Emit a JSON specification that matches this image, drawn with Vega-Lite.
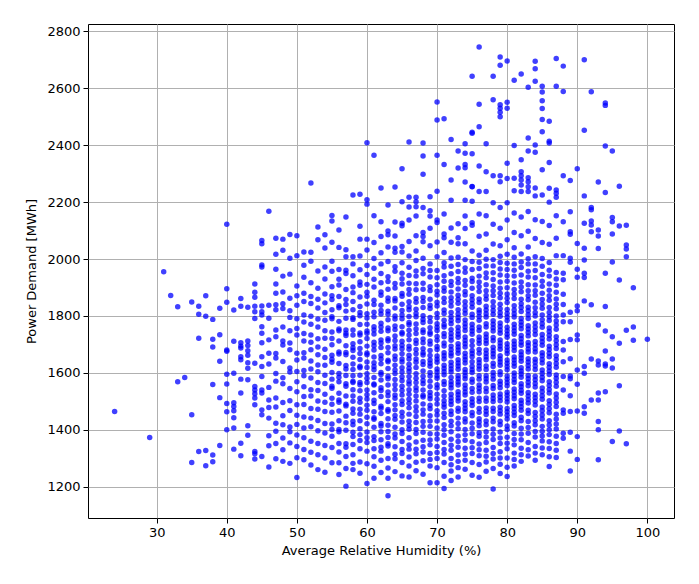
{
  "$schema": "https://vega.github.io/schema/vega-lite/v6.json",
  "width": 586,
  "height": 494,
  "autosize": {"type": "none"},
  "padding": {"left": 88, "top": 24, "right": 25, "bottom": 66},
  "background": "white",
  "config": {
    "view": {"stroke": "black", "strokeWidth": 1},
    "axis": {
      "labelFont": "DejaVu Sans",
      "titleFont": "DejaVu Sans",
      "labelFontSize": 13,
      "titleFontSize": 13,
      "titleFontWeight": "normal",
      "labelColor": "black",
      "titleColor": "black",
      "tickColor": "black",
      "tickSize": 5,
      "domain": false,
      "gridColor": "#b0b0b0",
      "gridWidth": 1,
      "labelPadding": 3
    }
  },
  "data": {
    "values": [
      {"rh":24,"mwh":1464},{"rh":29,"mwh":1373},{"rh":31,"mwh":1955},{"rh":32,"mwh":1872},
      {"rh":33,"mwh":1832},{"rh":33,"mwh":1569},{"rh":34,"mwh":1584},
      {"rh":35,"mwh":1849},{"rh":35,"mwh":1453},{"rh":35,"mwh":1285},
      {"rh":36,"mwh":1834},{"rh":36,"mwh":1806},{"rh":36,"mwh":1722},{"rh":36,"mwh":1324},
      {"rh":37,"mwh":1871},{"rh":37,"mwh":1799},{"rh":37,"mwh":1327},{"rh":37,"mwh":1274},
      {"rh":38,"mwh":1788},{"rh":38,"mwh":1718},{"rh":38,"mwh":1691},{"rh":38,"mwh":1559},{"rh":38,"mwh":1311},{"rh":38,"mwh":1288},
      {"rh":39,"mwh":1827},{"rh":39,"mwh":1734},{"rh":39,"mwh":1641},{"rh":39,"mwh":1513},{"rh":39,"mwh":1345},
      {"rh":40,"mwh":2122},{"rh":40,"mwh":1896},{"rh":40,"mwh":1848},{"rh":40,"mwh":1680},{"rh":40,"mwh":1676},{"rh":40,"mwh":1595},{"rh":40,"mwh":1561},{"rh":40,"mwh":1492},{"rh":40,"mwh":1463},{"rh":40,"mwh":1400},
      {"rh":41,"mwh":1821},{"rh":41,"mwh":1711},{"rh":41,"mwh":1599},{"rh":41,"mwh":1495},{"rh":41,"mwh":1482},{"rh":41,"mwh":1467},{"rh":41,"mwh":1442},{"rh":41,"mwh":1406},{"rh":41,"mwh":1332},
      {"rh":42,"mwh":1861},{"rh":42,"mwh":1834},{"rh":42,"mwh":1706},{"rh":42,"mwh":1694},{"rh":42,"mwh":1687},{"rh":42,"mwh":1657},{"rh":42,"mwh":1646},{"rh":42,"mwh":1578},{"rh":42,"mwh":1529},{"rh":42,"mwh":1353},{"rh":42,"mwh":1309},
      {"rh":43,"mwh":1831},{"rh":43,"mwh":1712},{"rh":43,"mwh":1696},{"rh":43,"mwh":1678},{"rh":43,"mwh":1662},{"rh":43,"mwh":1636},{"rh":43,"mwh":1616},{"rh":43,"mwh":1576},{"rh":43,"mwh":1414},{"rh":43,"mwh":1381},
      {"rh":44,"mwh":1912},{"rh":44,"mwh":1883},{"rh":44,"mwh":1866},{"rh":44,"mwh":1834},{"rh":44,"mwh":1815},{"rh":44,"mwh":1791},{"rh":44,"mwh":1634},{"rh":44,"mwh":1552},{"rh":44,"mwh":1540},{"rh":44,"mwh":1527},{"rh":44,"mwh":1512},{"rh":44,"mwh":1488},{"rh":44,"mwh":1324},{"rh":44,"mwh":1316},{"rh":44,"mwh":1297},
      {"rh":45,"mwh":2065},{"rh":45,"mwh":2054},{"rh":45,"mwh":1979},{"rh":45,"mwh":1972},{"rh":45,"mwh":1835},{"rh":45,"mwh":1815},{"rh":45,"mwh":1803},{"rh":45,"mwh":1762},{"rh":45,"mwh":1739},{"rh":45,"mwh":1706},{"rh":45,"mwh":1657},{"rh":45,"mwh":1622},{"rh":45,"mwh":1587},{"rh":45,"mwh":1540},{"rh":45,"mwh":1529},{"rh":45,"mwh":1470},{"rh":45,"mwh":1453},{"rh":45,"mwh":1306},
      {"rh":46,"mwh":2168},{"rh":46,"mwh":1838},{"rh":46,"mwh":1792},{"rh":46,"mwh":1716},{"rh":46,"mwh":1669},{"rh":46,"mwh":1631},{"rh":46,"mwh":1549},{"rh":46,"mwh":1505},{"rh":46,"mwh":1478},{"rh":46,"mwh":1441},{"rh":46,"mwh":1379},{"rh":46,"mwh":1344},{"rh":46,"mwh":1269},
      {"rh":47,"mwh":2073},{"rh":47,"mwh":2017},{"rh":47,"mwh":1964},{"rh":47,"mwh":1912},{"rh":47,"mwh":1880},{"rh":47,"mwh":1839},{"rh":47,"mwh":1822},{"rh":47,"mwh":1751},{"rh":47,"mwh":1727},{"rh":47,"mwh":1668},{"rh":47,"mwh":1652},{"rh":47,"mwh":1598},{"rh":47,"mwh":1571},{"rh":47,"mwh":1512},{"rh":47,"mwh":1480},{"rh":47,"mwh":1423},{"rh":47,"mwh":1395},{"rh":47,"mwh":1352},{"rh":47,"mwh":1298},
      {"rh":48,"mwh":2070},{"rh":48,"mwh":2031},{"rh":48,"mwh":1940},{"rh":48,"mwh":1884},{"rh":48,"mwh":1843},{"rh":48,"mwh":1826},{"rh":48,"mwh":1761},{"rh":48,"mwh":1712},{"rh":48,"mwh":1698},{"rh":48,"mwh":1640},{"rh":48,"mwh":1583},{"rh":48,"mwh":1562},{"rh":48,"mwh":1496},{"rh":48,"mwh":1449},{"rh":48,"mwh":1418},{"rh":48,"mwh":1371},{"rh":48,"mwh":1330},{"rh":48,"mwh":1289},
      {"rh":49,"mwh":2086},{"rh":49,"mwh":2003},{"rh":49,"mwh":1947},{"rh":49,"mwh":1862},{"rh":49,"mwh":1818},{"rh":49,"mwh":1795},{"rh":49,"mwh":1748},{"rh":49,"mwh":1705},{"rh":49,"mwh":1681},{"rh":49,"mwh":1617},{"rh":49,"mwh":1603},{"rh":49,"mwh":1545},{"rh":49,"mwh":1502},{"rh":49,"mwh":1468},{"rh":49,"mwh":1410},{"rh":49,"mwh":1393},{"rh":49,"mwh":1354},{"rh":49,"mwh":1282},
      {"rh":50,"mwh":2082},{"rh":50,"mwh":2012},{"rh":50,"mwh":1905},{"rh":50,"mwh":1871},{"rh":50,"mwh":1838},{"rh":50,"mwh":1790},{"rh":50,"mwh":1756},{"rh":50,"mwh":1733},{"rh":50,"mwh":1669},{"rh":50,"mwh":1645},{"rh":50,"mwh":1605},{"rh":50,"mwh":1569},{"rh":50,"mwh":1534},{"rh":50,"mwh":1488},{"rh":50,"mwh":1451},{"rh":50,"mwh":1419},{"rh":50,"mwh":1382},{"rh":50,"mwh":1341},{"rh":50,"mwh":1302},{"rh":50,"mwh":1232},
      {"rh":51,"mwh":2025},{"rh":51,"mwh":1978},{"rh":51,"mwh":1936},{"rh":51,"mwh":1880},{"rh":51,"mwh":1851},{"rh":51,"mwh":1803},{"rh":51,"mwh":1779},{"rh":51,"mwh":1738},{"rh":51,"mwh":1712},{"rh":51,"mwh":1671},{"rh":51,"mwh":1652},{"rh":51,"mwh":1608},{"rh":51,"mwh":1590},{"rh":51,"mwh":1551},{"rh":51,"mwh":1517},{"rh":51,"mwh":1489},{"rh":51,"mwh":1445},{"rh":51,"mwh":1406},{"rh":51,"mwh":1372},{"rh":51,"mwh":1331},{"rh":51,"mwh":1295},
      {"rh":52,"mwh":2267},{"rh":52,"mwh":2024},{"rh":52,"mwh":1992},{"rh":52,"mwh":1917},{"rh":52,"mwh":1868},{"rh":52,"mwh":1844},{"rh":52,"mwh":1799},{"rh":52,"mwh":1771},{"rh":52,"mwh":1733},{"rh":52,"mwh":1708},{"rh":52,"mwh":1681},{"rh":52,"mwh":1642},{"rh":52,"mwh":1614},{"rh":52,"mwh":1582},{"rh":52,"mwh":1541},{"rh":52,"mwh":1519},{"rh":52,"mwh":1475},{"rh":52,"mwh":1441},{"rh":52,"mwh":1411},{"rh":52,"mwh":1360},{"rh":52,"mwh":1321},{"rh":52,"mwh":1276},
      {"rh":53,"mwh":2113},{"rh":53,"mwh":2068},{"rh":53,"mwh":1958},{"rh":53,"mwh":1897},{"rh":53,"mwh":1859},{"rh":53,"mwh":1828},{"rh":53,"mwh":1789},{"rh":53,"mwh":1761},{"rh":53,"mwh":1720},{"rh":53,"mwh":1691},{"rh":53,"mwh":1664},{"rh":53,"mwh":1628},{"rh":53,"mwh":1604},{"rh":53,"mwh":1566},{"rh":53,"mwh":1538},{"rh":53,"mwh":1501},{"rh":53,"mwh":1472},{"rh":53,"mwh":1433},{"rh":53,"mwh":1397},{"rh":53,"mwh":1352},{"rh":53,"mwh":1312},{"rh":53,"mwh":1260},
      {"rh":54,"mwh":2085},{"rh":54,"mwh":2039},{"rh":54,"mwh":1972},{"rh":54,"mwh":1930},{"rh":54,"mwh":1877},{"rh":54,"mwh":1846},{"rh":54,"mwh":1812},{"rh":54,"mwh":1785},{"rh":54,"mwh":1748},{"rh":54,"mwh":1722},{"rh":54,"mwh":1683},{"rh":54,"mwh":1654},{"rh":54,"mwh":1627},{"rh":54,"mwh":1592},{"rh":54,"mwh":1563},{"rh":54,"mwh":1525},{"rh":54,"mwh":1497},{"rh":54,"mwh":1464},{"rh":54,"mwh":1422},{"rh":54,"mwh":1389},{"rh":54,"mwh":1345},{"rh":54,"mwh":1301},{"rh":54,"mwh":1251},
      {"rh":55,"mwh":2153},{"rh":55,"mwh":2134},{"rh":55,"mwh":2059},{"rh":55,"mwh":1992},{"rh":55,"mwh":1957},{"rh":55,"mwh":1903},{"rh":55,"mwh":1871},{"rh":55,"mwh":1858},{"rh":55,"mwh":1822},{"rh":55,"mwh":1797},{"rh":55,"mwh":1790},{"rh":55,"mwh":1744},{"rh":55,"mwh":1721},{"rh":55,"mwh":1699},{"rh":55,"mwh":1662},{"rh":55,"mwh":1648},{"rh":55,"mwh":1637},{"rh":55,"mwh":1601},{"rh":55,"mwh":1578},{"rh":55,"mwh":1553},{"rh":55,"mwh":1546},{"rh":55,"mwh":1511},{"rh":55,"mwh":1490},{"rh":55,"mwh":1462},{"rh":55,"mwh":1420},{"rh":55,"mwh":1401},{"rh":55,"mwh":1377},{"rh":55,"mwh":1338},{"rh":55,"mwh":1284},
      {"rh":56,"mwh":2102},{"rh":56,"mwh":2041},{"rh":56,"mwh":1963},{"rh":56,"mwh":1929},{"rh":56,"mwh":1909},{"rh":56,"mwh":1868},{"rh":56,"mwh":1836},{"rh":56,"mwh":1829},{"rh":56,"mwh":1781},{"rh":56,"mwh":1754},{"rh":56,"mwh":1748},{"rh":56,"mwh":1712},{"rh":56,"mwh":1673},{"rh":56,"mwh":1666},{"rh":56,"mwh":1633},{"rh":56,"mwh":1598},{"rh":56,"mwh":1585},{"rh":56,"mwh":1569},{"rh":56,"mwh":1528},{"rh":56,"mwh":1505},{"rh":56,"mwh":1497},{"rh":56,"mwh":1466},{"rh":56,"mwh":1432},{"rh":56,"mwh":1401},{"rh":56,"mwh":1393},{"rh":56,"mwh":1352},{"rh":56,"mwh":1322},{"rh":56,"mwh":1284},{"rh":56,"mwh":1243},
      {"rh":57,"mwh":2148},{"rh":57,"mwh":2033},{"rh":57,"mwh":2008},{"rh":57,"mwh":1961},{"rh":57,"mwh":1949},{"rh":57,"mwh":1893},{"rh":57,"mwh":1858},{"rh":57,"mwh":1840},{"rh":57,"mwh":1817},{"rh":57,"mwh":1792},{"rh":57,"mwh":1751},{"rh":57,"mwh":1739},{"rh":57,"mwh":1731},{"rh":57,"mwh":1695},{"rh":57,"mwh":1672},{"rh":57,"mwh":1664},{"rh":57,"mwh":1626},{"rh":57,"mwh":1614},{"rh":57,"mwh":1591},{"rh":57,"mwh":1562},{"rh":57,"mwh":1553},{"rh":57,"mwh":1519},{"rh":57,"mwh":1490},{"rh":57,"mwh":1484},{"rh":57,"mwh":1448},{"rh":57,"mwh":1425},{"rh":57,"mwh":1398},{"rh":57,"mwh":1351},{"rh":57,"mwh":1339},{"rh":57,"mwh":1306},{"rh":57,"mwh":1264},{"rh":57,"mwh":1202},
      {"rh":58,"mwh":2225},{"rh":58,"mwh":2008},{"rh":58,"mwh":1983},{"rh":58,"mwh":1941},{"rh":58,"mwh":1902},{"rh":58,"mwh":1882},{"rh":58,"mwh":1851},{"rh":58,"mwh":1822},{"rh":58,"mwh":1794},{"rh":58,"mwh":1788},{"rh":58,"mwh":1751},{"rh":58,"mwh":1733},{"rh":58,"mwh":1702},{"rh":58,"mwh":1688},{"rh":58,"mwh":1679},{"rh":58,"mwh":1655},{"rh":58,"mwh":1631},{"rh":58,"mwh":1612},{"rh":58,"mwh":1590},{"rh":58,"mwh":1571},{"rh":58,"mwh":1566},{"rh":58,"mwh":1541},{"rh":58,"mwh":1519},{"rh":58,"mwh":1500},{"rh":58,"mwh":1473},{"rh":58,"mwh":1458},{"rh":58,"mwh":1430},{"rh":58,"mwh":1418},{"rh":58,"mwh":1391},{"rh":58,"mwh":1376},{"rh":58,"mwh":1348},{"rh":58,"mwh":1312},{"rh":58,"mwh":1282},{"rh":58,"mwh":1260},
      {"rh":59,"mwh":2228},{"rh":59,"mwh":2115},{"rh":59,"mwh":2070},{"rh":59,"mwh":2011},{"rh":59,"mwh":1962},{"rh":59,"mwh":1919},{"rh":59,"mwh":1908},{"rh":59,"mwh":1867},{"rh":59,"mwh":1833},{"rh":59,"mwh":1812},{"rh":59,"mwh":1801},{"rh":59,"mwh":1770},{"rh":59,"mwh":1740},{"rh":59,"mwh":1733},{"rh":59,"mwh":1709},{"rh":59,"mwh":1686},{"rh":59,"mwh":1668},{"rh":59,"mwh":1647},{"rh":59,"mwh":1623},{"rh":59,"mwh":1618},{"rh":59,"mwh":1592},{"rh":59,"mwh":1566},{"rh":59,"mwh":1558},{"rh":59,"mwh":1537},{"rh":59,"mwh":1511},{"rh":59,"mwh":1497},{"rh":59,"mwh":1472},{"rh":59,"mwh":1455},{"rh":59,"mwh":1432},{"rh":59,"mwh":1404},{"rh":59,"mwh":1383},{"rh":59,"mwh":1362},{"rh":59,"mwh":1333},{"rh":59,"mwh":1287},{"rh":59,"mwh":1247},
      {"rh":60,"mwh":2409},{"rh":60,"mwh":2208},{"rh":60,"mwh":2193},{"rh":60,"mwh":2070},{"rh":60,"mwh":2032},{"rh":60,"mwh":1977},{"rh":60,"mwh":1946},{"rh":60,"mwh":1911},{"rh":60,"mwh":1883},{"rh":60,"mwh":1869},{"rh":60,"mwh":1842},{"rh":60,"mwh":1808},{"rh":60,"mwh":1793},{"rh":60,"mwh":1771},{"rh":60,"mwh":1747},{"rh":60,"mwh":1739},{"rh":60,"mwh":1721},{"rh":60,"mwh":1694},{"rh":60,"mwh":1670},{"rh":60,"mwh":1664},{"rh":60,"mwh":1638},{"rh":60,"mwh":1619},{"rh":60,"mwh":1597},{"rh":60,"mwh":1581},{"rh":60,"mwh":1566},{"rh":60,"mwh":1540},{"rh":60,"mwh":1523},{"rh":60,"mwh":1508},{"rh":60,"mwh":1486},{"rh":60,"mwh":1469},{"rh":60,"mwh":1444},{"rh":60,"mwh":1421},{"rh":60,"mwh":1392},{"rh":60,"mwh":1372},{"rh":60,"mwh":1355},{"rh":60,"mwh":1325},{"rh":60,"mwh":1281},{"rh":60,"mwh":1211},
      {"rh":61,"mwh":2365},{"rh":61,"mwh":2152},{"rh":61,"mwh":2058},{"rh":61,"mwh":2002},{"rh":61,"mwh":1968},{"rh":61,"mwh":1929},{"rh":61,"mwh":1902},{"rh":61,"mwh":1855},{"rh":61,"mwh":1840},{"rh":61,"mwh":1813},{"rh":61,"mwh":1797},{"rh":61,"mwh":1762},{"rh":61,"mwh":1751},{"rh":61,"mwh":1737},{"rh":61,"mwh":1708},{"rh":61,"mwh":1695},{"rh":61,"mwh":1680},{"rh":61,"mwh":1656},{"rh":61,"mwh":1636},{"rh":61,"mwh":1622},{"rh":61,"mwh":1611},{"rh":61,"mwh":1584},{"rh":61,"mwh":1561},{"rh":61,"mwh":1557},{"rh":61,"mwh":1530},{"rh":61,"mwh":1504},{"rh":61,"mwh":1492},{"rh":61,"mwh":1463},{"rh":61,"mwh":1442},{"rh":61,"mwh":1437},{"rh":61,"mwh":1409},{"rh":61,"mwh":1376},{"rh":61,"mwh":1362},{"rh":61,"mwh":1333},{"rh":61,"mwh":1305},{"rh":61,"mwh":1272},{"rh":61,"mwh":1230},
      {"rh":62,"mwh":2250},{"rh":62,"mwh":2131},{"rh":62,"mwh":2079},{"rh":62,"mwh":2022},{"rh":62,"mwh":1983},{"rh":62,"mwh":1949},{"rh":62,"mwh":1917},{"rh":62,"mwh":1884},{"rh":62,"mwh":1873},{"rh":62,"mwh":1838},{"rh":62,"mwh":1819},{"rh":62,"mwh":1807},{"rh":62,"mwh":1774},{"rh":62,"mwh":1761},{"rh":62,"mwh":1746},{"rh":62,"mwh":1716},{"rh":62,"mwh":1705},{"rh":62,"mwh":1689},{"rh":62,"mwh":1661},{"rh":62,"mwh":1649},{"rh":62,"mwh":1632},{"rh":62,"mwh":1601},{"rh":62,"mwh":1594},{"rh":62,"mwh":1575},{"rh":62,"mwh":1548},{"rh":62,"mwh":1538},{"rh":62,"mwh":1517},{"rh":62,"mwh":1483},{"rh":62,"mwh":1476},{"rh":62,"mwh":1457},{"rh":62,"mwh":1422},{"rh":62,"mwh":1413},{"rh":62,"mwh":1393},{"rh":62,"mwh":1365},{"rh":62,"mwh":1339},{"rh":62,"mwh":1325},{"rh":62,"mwh":1293},{"rh":62,"mwh":1250},
      {"rh":63,"mwh":2190},{"rh":63,"mwh":2099},{"rh":63,"mwh":2085},{"rh":63,"mwh":2042},{"rh":63,"mwh":1991},{"rh":63,"mwh":1938},{"rh":63,"mwh":1921},{"rh":63,"mwh":1894},{"rh":63,"mwh":1863},{"rh":63,"mwh":1852},{"rh":63,"mwh":1817},{"rh":63,"mwh":1806},{"rh":63,"mwh":1787},{"rh":63,"mwh":1758},{"rh":63,"mwh":1748},{"rh":63,"mwh":1720},{"rh":63,"mwh":1713},{"rh":63,"mwh":1689},{"rh":63,"mwh":1671},{"rh":63,"mwh":1644},{"rh":63,"mwh":1639},{"rh":63,"mwh":1615},{"rh":63,"mwh":1588},{"rh":63,"mwh":1579},{"rh":63,"mwh":1557},{"rh":63,"mwh":1533},{"rh":63,"mwh":1520},{"rh":63,"mwh":1499},{"rh":63,"mwh":1471},{"rh":63,"mwh":1465},{"rh":63,"mwh":1439},{"rh":63,"mwh":1416},{"rh":63,"mwh":1394},{"rh":63,"mwh":1373},{"rh":63,"mwh":1351},{"rh":63,"mwh":1343},{"rh":63,"mwh":1299},{"rh":63,"mwh":1266},{"rh":63,"mwh":1230},{"rh":63,"mwh":1168},
      {"rh":64,"mwh":2253},{"rh":64,"mwh":2130},{"rh":64,"mwh":2081},{"rh":64,"mwh":2038},{"rh":64,"mwh":2024},{"rh":64,"mwh":1973},{"rh":64,"mwh":1957},{"rh":64,"mwh":1914},{"rh":64,"mwh":1898},{"rh":64,"mwh":1861},{"rh":64,"mwh":1853},{"rh":64,"mwh":1828},{"rh":64,"mwh":1800},{"rh":64,"mwh":1789},{"rh":64,"mwh":1765},{"rh":64,"mwh":1752},{"rh":64,"mwh":1730},{"rh":64,"mwh":1714},{"rh":64,"mwh":1695},{"rh":64,"mwh":1684},{"rh":64,"mwh":1659},{"rh":64,"mwh":1647},{"rh":64,"mwh":1627},{"rh":64,"mwh":1610},{"rh":64,"mwh":1598},{"rh":64,"mwh":1577},{"rh":64,"mwh":1558},{"rh":64,"mwh":1542},{"rh":64,"mwh":1522},{"rh":64,"mwh":1511},{"rh":64,"mwh":1488},{"rh":64,"mwh":1470},{"rh":64,"mwh":1450},{"rh":64,"mwh":1437},{"rh":64,"mwh":1409},{"rh":64,"mwh":1385},{"rh":64,"mwh":1371},{"rh":64,"mwh":1340},{"rh":64,"mwh":1314},{"rh":64,"mwh":1298},{"rh":64,"mwh":1253},
      {"rh":65,"mwh":2317},{"rh":65,"mwh":2201},{"rh":65,"mwh":2126},{"rh":65,"mwh":2117},{"rh":65,"mwh":2044},{"rh":65,"mwh":2025},{"rh":65,"mwh":1987},{"rh":65,"mwh":1950},{"rh":65,"mwh":1931},{"rh":65,"mwh":1912},{"rh":65,"mwh":1879},{"rh":65,"mwh":1869},{"rh":65,"mwh":1841},{"rh":65,"mwh":1819},{"rh":65,"mwh":1803},{"rh":65,"mwh":1790},{"rh":65,"mwh":1762},{"rh":65,"mwh":1742},{"rh":65,"mwh":1737},{"rh":65,"mwh":1711},{"rh":65,"mwh":1697},{"rh":65,"mwh":1685},{"rh":65,"mwh":1667},{"rh":65,"mwh":1649},{"rh":65,"mwh":1638},{"rh":65,"mwh":1618},{"rh":65,"mwh":1603},{"rh":65,"mwh":1586},{"rh":65,"mwh":1572},{"rh":65,"mwh":1553},{"rh":65,"mwh":1538},{"rh":65,"mwh":1522},{"rh":65,"mwh":1502},{"rh":65,"mwh":1489},{"rh":65,"mwh":1462},{"rh":65,"mwh":1447},{"rh":65,"mwh":1427},{"rh":65,"mwh":1400},{"rh":65,"mwh":1387},{"rh":65,"mwh":1359},{"rh":65,"mwh":1331},{"rh":65,"mwh":1317},{"rh":65,"mwh":1285},{"rh":65,"mwh":1238},
      {"rh":66,"mwh":2411},{"rh":66,"mwh":2217},{"rh":66,"mwh":2183},{"rh":66,"mwh":2137},{"rh":66,"mwh":2062},{"rh":66,"mwh":2011},{"rh":66,"mwh":1971},{"rh":66,"mwh":1942},{"rh":66,"mwh":1915},{"rh":66,"mwh":1893},{"rh":66,"mwh":1876},{"rh":66,"mwh":1850},{"rh":66,"mwh":1833},{"rh":66,"mwh":1822},{"rh":66,"mwh":1798},{"rh":66,"mwh":1777},{"rh":66,"mwh":1769},{"rh":66,"mwh":1750},{"rh":66,"mwh":1733},{"rh":66,"mwh":1716},{"rh":66,"mwh":1694},{"rh":66,"mwh":1683},{"rh":66,"mwh":1662},{"rh":66,"mwh":1649},{"rh":66,"mwh":1630},{"rh":66,"mwh":1616},{"rh":66,"mwh":1605},{"rh":66,"mwh":1587},{"rh":66,"mwh":1571},{"rh":66,"mwh":1560},{"rh":66,"mwh":1541},{"rh":66,"mwh":1525},{"rh":66,"mwh":1507},{"rh":66,"mwh":1493},{"rh":66,"mwh":1477},{"rh":66,"mwh":1455},{"rh":66,"mwh":1430},{"rh":66,"mwh":1415},{"rh":66,"mwh":1402},{"rh":66,"mwh":1372},{"rh":66,"mwh":1347},{"rh":66,"mwh":1332},{"rh":66,"mwh":1304},{"rh":66,"mwh":1273},{"rh":66,"mwh":1234},
      {"rh":67,"mwh":2217},{"rh":67,"mwh":2201},{"rh":67,"mwh":2184},{"rh":67,"mwh":2151},{"rh":67,"mwh":2082},{"rh":67,"mwh":2028},{"rh":67,"mwh":1995},{"rh":67,"mwh":1958},{"rh":67,"mwh":1940},{"rh":67,"mwh":1913},{"rh":67,"mwh":1892},{"rh":67,"mwh":1861},{"rh":67,"mwh":1848},{"rh":67,"mwh":1824},{"rh":67,"mwh":1809},{"rh":67,"mwh":1797},{"rh":67,"mwh":1772},{"rh":67,"mwh":1754},{"rh":67,"mwh":1738},{"rh":67,"mwh":1715},{"rh":67,"mwh":1703},{"rh":67,"mwh":1682},{"rh":67,"mwh":1667},{"rh":67,"mwh":1649},{"rh":67,"mwh":1637},{"rh":67,"mwh":1619},{"rh":67,"mwh":1597},{"rh":67,"mwh":1581},{"rh":67,"mwh":1566},{"rh":67,"mwh":1549},{"rh":67,"mwh":1537},{"rh":67,"mwh":1519},{"rh":67,"mwh":1501},{"rh":67,"mwh":1481},{"rh":67,"mwh":1465},{"rh":67,"mwh":1447},{"rh":67,"mwh":1426},{"rh":67,"mwh":1401},{"rh":67,"mwh":1387},{"rh":67,"mwh":1357},{"rh":67,"mwh":1332},{"rh":67,"mwh":1316},{"rh":67,"mwh":1286},{"rh":67,"mwh":1256},
      {"rh":68,"mwh":2408},{"rh":68,"mwh":2362},{"rh":68,"mwh":2298},{"rh":68,"mwh":2181},{"rh":68,"mwh":2093},{"rh":68,"mwh":2079},{"rh":68,"mwh":2061},{"rh":68,"mwh":2003},{"rh":68,"mwh":1967},{"rh":68,"mwh":1948},{"rh":68,"mwh":1915},{"rh":68,"mwh":1894},{"rh":68,"mwh":1865},{"rh":68,"mwh":1851},{"rh":68,"mwh":1830},{"rh":68,"mwh":1801},{"rh":68,"mwh":1788},{"rh":68,"mwh":1777},{"rh":68,"mwh":1751},{"rh":68,"mwh":1742},{"rh":68,"mwh":1719},{"rh":68,"mwh":1706},{"rh":68,"mwh":1685},{"rh":68,"mwh":1671},{"rh":68,"mwh":1663},{"rh":68,"mwh":1640},{"rh":68,"mwh":1629},{"rh":68,"mwh":1607},{"rh":68,"mwh":1588},{"rh":68,"mwh":1573},{"rh":68,"mwh":1562},{"rh":68,"mwh":1540},{"rh":68,"mwh":1521},{"rh":68,"mwh":1515},{"rh":68,"mwh":1491},{"rh":68,"mwh":1470},{"rh":68,"mwh":1455},{"rh":68,"mwh":1429},{"rh":68,"mwh":1412},{"rh":68,"mwh":1391},{"rh":68,"mwh":1363},{"rh":68,"mwh":1340},{"rh":68,"mwh":1322},{"rh":68,"mwh":1291},{"rh":68,"mwh":1244},
      {"rh":69,"mwh":2219},{"rh":69,"mwh":2170},{"rh":69,"mwh":2151},{"rh":69,"mwh":2108},{"rh":69,"mwh":2047},{"rh":69,"mwh":1983},{"rh":69,"mwh":1960},{"rh":69,"mwh":1937},{"rh":69,"mwh":1903},{"rh":69,"mwh":1889},{"rh":69,"mwh":1859},{"rh":69,"mwh":1838},{"rh":69,"mwh":1826},{"rh":69,"mwh":1795},{"rh":69,"mwh":1780},{"rh":69,"mwh":1759},{"rh":69,"mwh":1743},{"rh":69,"mwh":1736},{"rh":69,"mwh":1712},{"rh":69,"mwh":1701},{"rh":69,"mwh":1679},{"rh":69,"mwh":1661},{"rh":69,"mwh":1645},{"rh":69,"mwh":1634},{"rh":69,"mwh":1623},{"rh":69,"mwh":1601},{"rh":69,"mwh":1589},{"rh":69,"mwh":1571},{"rh":69,"mwh":1552},{"rh":69,"mwh":1532},{"rh":69,"mwh":1520},{"rh":69,"mwh":1509},{"rh":69,"mwh":1486},{"rh":69,"mwh":1474},{"rh":69,"mwh":1449},{"rh":69,"mwh":1431},{"rh":69,"mwh":1412},{"rh":69,"mwh":1386},{"rh":69,"mwh":1364},{"rh":69,"mwh":1347},{"rh":69,"mwh":1317},{"rh":69,"mwh":1296},{"rh":69,"mwh":1273},{"rh":69,"mwh":1214},
      {"rh":70,"mwh":2552},{"rh":70,"mwh":2489},{"rh":70,"mwh":2365},{"rh":70,"mwh":2238},{"rh":70,"mwh":2137},{"rh":70,"mwh":2128},{"rh":70,"mwh":2060},{"rh":70,"mwh":2008},{"rh":70,"mwh":1960},{"rh":70,"mwh":1934},{"rh":70,"mwh":1910},{"rh":70,"mwh":1887},{"rh":70,"mwh":1874},{"rh":70,"mwh":1848},{"rh":70,"mwh":1835},{"rh":70,"mwh":1809},{"rh":70,"mwh":1794},{"rh":70,"mwh":1773},{"rh":70,"mwh":1760},{"rh":70,"mwh":1749},{"rh":70,"mwh":1728},{"rh":70,"mwh":1715},{"rh":70,"mwh":1693},{"rh":70,"mwh":1682},{"rh":70,"mwh":1659},{"rh":70,"mwh":1648},{"rh":70,"mwh":1637},{"rh":70,"mwh":1614},{"rh":70,"mwh":1603},{"rh":70,"mwh":1590},{"rh":70,"mwh":1581},{"rh":70,"mwh":1558},{"rh":70,"mwh":1547},{"rh":70,"mwh":1525},{"rh":70,"mwh":1507},{"rh":70,"mwh":1491},{"rh":70,"mwh":1467},{"rh":70,"mwh":1452},{"rh":70,"mwh":1431},{"rh":70,"mwh":1406},{"rh":70,"mwh":1385},{"rh":70,"mwh":1368},{"rh":70,"mwh":1341},{"rh":70,"mwh":1320},{"rh":70,"mwh":1299},{"rh":70,"mwh":1267},{"rh":70,"mwh":1214},
      {"rh":71,"mwh":2493},{"rh":71,"mwh":2332},{"rh":71,"mwh":2158},{"rh":71,"mwh":2088},{"rh":71,"mwh":2075},{"rh":71,"mwh":2023},{"rh":71,"mwh":1987},{"rh":71,"mwh":1972},{"rh":71,"mwh":1941},{"rh":71,"mwh":1922},{"rh":71,"mwh":1899},{"rh":71,"mwh":1887},{"rh":71,"mwh":1862},{"rh":71,"mwh":1847},{"rh":71,"mwh":1821},{"rh":71,"mwh":1809},{"rh":71,"mwh":1785},{"rh":71,"mwh":1770},{"rh":71,"mwh":1761},{"rh":71,"mwh":1738},{"rh":71,"mwh":1727},{"rh":71,"mwh":1705},{"rh":71,"mwh":1694},{"rh":71,"mwh":1671},{"rh":71,"mwh":1660},{"rh":71,"mwh":1649},{"rh":71,"mwh":1627},{"rh":71,"mwh":1615},{"rh":71,"mwh":1604},{"rh":71,"mwh":1593},{"rh":71,"mwh":1570},{"rh":71,"mwh":1559},{"rh":71,"mwh":1537},{"rh":71,"mwh":1519},{"rh":71,"mwh":1502},{"rh":71,"mwh":1490},{"rh":71,"mwh":1479},{"rh":71,"mwh":1458},{"rh":71,"mwh":1443},{"rh":71,"mwh":1418},{"rh":71,"mwh":1400},{"rh":71,"mwh":1381},{"rh":71,"mwh":1355},{"rh":71,"mwh":1331},{"rh":71,"mwh":1315},{"rh":71,"mwh":1285},{"rh":71,"mwh":1237},{"rh":71,"mwh":1194},
      {"rh":72,"mwh":2420},{"rh":72,"mwh":2278},{"rh":72,"mwh":2207},{"rh":72,"mwh":2109},{"rh":72,"mwh":2059},{"rh":72,"mwh":2004},{"rh":72,"mwh":1975},{"rh":72,"mwh":1948},{"rh":72,"mwh":1921},{"rh":72,"mwh":1907},{"rh":72,"mwh":1884},{"rh":72,"mwh":1864},{"rh":72,"mwh":1850},{"rh":72,"mwh":1835},{"rh":72,"mwh":1812},{"rh":72,"mwh":1797},{"rh":72,"mwh":1785},{"rh":72,"mwh":1773},{"rh":72,"mwh":1752},{"rh":72,"mwh":1738},{"rh":72,"mwh":1726},{"rh":72,"mwh":1715},{"rh":72,"mwh":1694},{"rh":72,"mwh":1681},{"rh":72,"mwh":1669},{"rh":72,"mwh":1659},{"rh":72,"mwh":1637},{"rh":72,"mwh":1625},{"rh":72,"mwh":1614},{"rh":72,"mwh":1603},{"rh":72,"mwh":1584},{"rh":72,"mwh":1569},{"rh":72,"mwh":1558},{"rh":72,"mwh":1547},{"rh":72,"mwh":1525},{"rh":72,"mwh":1512},{"rh":72,"mwh":1500},{"rh":72,"mwh":1489},{"rh":72,"mwh":1466},{"rh":72,"mwh":1454},{"rh":72,"mwh":1430},{"rh":72,"mwh":1414},{"rh":72,"mwh":1393},{"rh":72,"mwh":1367},{"rh":72,"mwh":1346},{"rh":72,"mwh":1328},{"rh":72,"mwh":1299},{"rh":72,"mwh":1277},{"rh":72,"mwh":1255},{"rh":72,"mwh":1222},
      {"rh":73,"mwh":2380},{"rh":73,"mwh":2320},{"rh":73,"mwh":2124},{"rh":73,"mwh":2075},{"rh":73,"mwh":2054},{"rh":73,"mwh":2006},{"rh":73,"mwh":1981},{"rh":73,"mwh":1956},{"rh":73,"mwh":1932},{"rh":73,"mwh":1917},{"rh":73,"mwh":1895},{"rh":73,"mwh":1873},{"rh":73,"mwh":1859},{"rh":73,"mwh":1845},{"rh":73,"mwh":1822},{"rh":73,"mwh":1807},{"rh":73,"mwh":1795},{"rh":73,"mwh":1783},{"rh":73,"mwh":1760},{"rh":73,"mwh":1747},{"rh":73,"mwh":1736},{"rh":73,"mwh":1725},{"rh":73,"mwh":1702},{"rh":73,"mwh":1691},{"rh":73,"mwh":1680},{"rh":73,"mwh":1669},{"rh":73,"mwh":1646},{"rh":73,"mwh":1635},{"rh":73,"mwh":1624},{"rh":73,"mwh":1613},{"rh":73,"mwh":1590},{"rh":73,"mwh":1579},{"rh":73,"mwh":1568},{"rh":73,"mwh":1557},{"rh":73,"mwh":1534},{"rh":73,"mwh":1523},{"rh":73,"mwh":1512},{"rh":73,"mwh":1501},{"rh":73,"mwh":1476},{"rh":73,"mwh":1465},{"rh":73,"mwh":1441},{"rh":73,"mwh":1422},{"rh":73,"mwh":1404},{"rh":73,"mwh":1378},{"rh":73,"mwh":1359},{"rh":73,"mwh":1339},{"rh":73,"mwh":1311},{"rh":73,"mwh":1289},{"rh":73,"mwh":1267},{"rh":73,"mwh":1234},
      {"rh":74,"mwh":2405},{"rh":74,"mwh":2372},{"rh":74,"mwh":2332},{"rh":74,"mwh":2321},{"rh":74,"mwh":2271},{"rh":74,"mwh":2207},{"rh":74,"mwh":2151},{"rh":74,"mwh":2107},{"rh":74,"mwh":2054},{"rh":74,"mwh":1998},{"rh":74,"mwh":1969},{"rh":74,"mwh":1954},{"rh":74,"mwh":1925},{"rh":74,"mwh":1908},{"rh":74,"mwh":1886},{"rh":74,"mwh":1874},{"rh":74,"mwh":1850},{"rh":74,"mwh":1835},{"rh":74,"mwh":1821},{"rh":74,"mwh":1809},{"rh":74,"mwh":1786},{"rh":74,"mwh":1773},{"rh":74,"mwh":1761},{"rh":74,"mwh":1749},{"rh":74,"mwh":1726},{"rh":74,"mwh":1714},{"rh":74,"mwh":1702},{"rh":74,"mwh":1691},{"rh":74,"mwh":1669},{"rh":74,"mwh":1657},{"rh":74,"mwh":1646},{"rh":74,"mwh":1635},{"rh":74,"mwh":1612},{"rh":74,"mwh":1601},{"rh":74,"mwh":1590},{"rh":74,"mwh":1579},{"rh":74,"mwh":1557},{"rh":74,"mwh":1545},{"rh":74,"mwh":1533},{"rh":74,"mwh":1522},{"rh":74,"mwh":1499},{"rh":74,"mwh":1487},{"rh":74,"mwh":1475},{"rh":74,"mwh":1463},{"rh":74,"mwh":1439},{"rh":74,"mwh":1427},{"rh":74,"mwh":1401},{"rh":74,"mwh":1383},{"rh":74,"mwh":1363},{"rh":74,"mwh":1335},{"rh":74,"mwh":1314},{"rh":74,"mwh":1293},{"rh":74,"mwh":1261},
      {"rh":75,"mwh":2642},{"rh":75,"mwh":2446},{"rh":75,"mwh":2442},{"rh":75,"mwh":2370},{"rh":75,"mwh":2255},{"rh":75,"mwh":2254},{"rh":75,"mwh":2203},{"rh":75,"mwh":2128},{"rh":75,"mwh":2119},{"rh":75,"mwh":2028},{"rh":75,"mwh":1991},{"rh":75,"mwh":1963},{"rh":75,"mwh":1933},{"rh":75,"mwh":1921},{"rh":75,"mwh":1897},{"rh":75,"mwh":1871},{"rh":75,"mwh":1857},{"rh":75,"mwh":1844},{"rh":75,"mwh":1831},{"rh":75,"mwh":1806},{"rh":75,"mwh":1795},{"rh":75,"mwh":1771},{"rh":75,"mwh":1758},{"rh":75,"mwh":1747},{"rh":75,"mwh":1736},{"rh":75,"mwh":1713},{"rh":75,"mwh":1696},{"rh":75,"mwh":1679},{"rh":75,"mwh":1668},{"rh":75,"mwh":1657},{"rh":75,"mwh":1639},{"rh":75,"mwh":1623},{"rh":75,"mwh":1611},{"rh":75,"mwh":1601},{"rh":75,"mwh":1578},{"rh":75,"mwh":1567},{"rh":75,"mwh":1545},{"rh":75,"mwh":1532},{"rh":75,"mwh":1509},{"rh":75,"mwh":1497},{"rh":75,"mwh":1485},{"rh":75,"mwh":1461},{"rh":75,"mwh":1449},{"rh":75,"mwh":1424},{"rh":75,"mwh":1405},{"rh":75,"mwh":1386},{"rh":75,"mwh":1358},{"rh":75,"mwh":1337},{"rh":75,"mwh":1317},{"rh":75,"mwh":1285},{"rh":75,"mwh":1240},
      {"rh":76,"mwh":2745},{"rh":76,"mwh":2544},{"rh":76,"mwh":2465},{"rh":76,"mwh":2327},{"rh":76,"mwh":2237},{"rh":76,"mwh":2158},{"rh":76,"mwh":2080},{"rh":76,"mwh":2013},{"rh":76,"mwh":1989},{"rh":76,"mwh":1967},{"rh":76,"mwh":1940},{"rh":76,"mwh":1919},{"rh":76,"mwh":1903},{"rh":76,"mwh":1886},{"rh":76,"mwh":1860},{"rh":76,"mwh":1847},{"rh":76,"mwh":1821},{"rh":76,"mwh":1811},{"rh":76,"mwh":1798},{"rh":76,"mwh":1785},{"rh":76,"mwh":1761},{"rh":76,"mwh":1749},{"rh":76,"mwh":1726},{"rh":76,"mwh":1715},{"rh":76,"mwh":1703},{"rh":76,"mwh":1682},{"rh":76,"mwh":1669},{"rh":76,"mwh":1647},{"rh":76,"mwh":1636},{"rh":76,"mwh":1624},{"rh":76,"mwh":1613},{"rh":76,"mwh":1590},{"rh":76,"mwh":1578},{"rh":76,"mwh":1557},{"rh":76,"mwh":1546},{"rh":76,"mwh":1534},{"rh":76,"mwh":1511},{"rh":76,"mwh":1499},{"rh":76,"mwh":1475},{"rh":76,"mwh":1462},{"rh":76,"mwh":1439},{"rh":76,"mwh":1427},{"rh":76,"mwh":1414},{"rh":76,"mwh":1390},{"rh":76,"mwh":1377},{"rh":76,"mwh":1350},{"rh":76,"mwh":1330},{"rh":76,"mwh":1309},{"rh":76,"mwh":1278},{"rh":76,"mwh":1233},
      {"rh":77,"mwh":2405},{"rh":77,"mwh":2307},{"rh":77,"mwh":2237},{"rh":77,"mwh":2152},{"rh":77,"mwh":2088},{"rh":77,"mwh":2031},{"rh":77,"mwh":1999},{"rh":77,"mwh":1976},{"rh":77,"mwh":1951},{"rh":77,"mwh":1934},{"rh":77,"mwh":1910},{"rh":77,"mwh":1889},{"rh":77,"mwh":1872},{"rh":77,"mwh":1859},{"rh":77,"mwh":1834},{"rh":77,"mwh":1821},{"rh":77,"mwh":1808},{"rh":77,"mwh":1796},{"rh":77,"mwh":1773},{"rh":77,"mwh":1761},{"rh":77,"mwh":1737},{"rh":77,"mwh":1725},{"rh":77,"mwh":1714},{"rh":77,"mwh":1703},{"rh":77,"mwh":1680},{"rh":77,"mwh":1668},{"rh":77,"mwh":1657},{"rh":77,"mwh":1646},{"rh":77,"mwh":1624},{"rh":77,"mwh":1612},{"rh":77,"mwh":1590},{"rh":77,"mwh":1579},{"rh":77,"mwh":1568},{"rh":77,"mwh":1546},{"rh":77,"mwh":1534},{"rh":77,"mwh":1512},{"rh":77,"mwh":1500},{"rh":77,"mwh":1477},{"rh":77,"mwh":1465},{"rh":77,"mwh":1454},{"rh":77,"mwh":1431},{"rh":77,"mwh":1418},{"rh":77,"mwh":1393},{"rh":77,"mwh":1375},{"rh":77,"mwh":1355},{"rh":77,"mwh":1328},{"rh":77,"mwh":1307},{"rh":77,"mwh":1287},{"rh":77,"mwh":1254},
      {"rh":78,"mwh":2642},{"rh":78,"mwh":2560},{"rh":78,"mwh":2293},{"rh":78,"mwh":2198},{"rh":78,"mwh":2122},{"rh":78,"mwh":2053},{"rh":78,"mwh":1998},{"rh":78,"mwh":1976},{"rh":78,"mwh":1952},{"rh":78,"mwh":1928},{"rh":78,"mwh":1905},{"rh":78,"mwh":1889},{"rh":78,"mwh":1872},{"rh":78,"mwh":1850},{"rh":78,"mwh":1833},{"rh":78,"mwh":1819},{"rh":78,"mwh":1806},{"rh":78,"mwh":1783},{"rh":78,"mwh":1771},{"rh":78,"mwh":1759},{"rh":78,"mwh":1747},{"rh":78,"mwh":1724},{"rh":78,"mwh":1713},{"rh":78,"mwh":1690},{"rh":78,"mwh":1678},{"rh":78,"mwh":1667},{"rh":78,"mwh":1656},{"rh":78,"mwh":1634},{"rh":78,"mwh":1622},{"rh":78,"mwh":1601},{"rh":78,"mwh":1590},{"rh":78,"mwh":1578},{"rh":78,"mwh":1556},{"rh":78,"mwh":1545},{"rh":78,"mwh":1522},{"rh":78,"mwh":1510},{"rh":78,"mwh":1499},{"rh":78,"mwh":1476},{"rh":78,"mwh":1464},{"rh":78,"mwh":1441},{"rh":78,"mwh":1428},{"rh":78,"mwh":1403},{"rh":78,"mwh":1384},{"rh":78,"mwh":1366},{"rh":78,"mwh":1338},{"rh":78,"mwh":1317},{"rh":78,"mwh":1297},{"rh":78,"mwh":1264},{"rh":78,"mwh":1192},
      {"rh":79,"mwh":2710},{"rh":79,"mwh":2681},{"rh":79,"mwh":2542},{"rh":79,"mwh":2530},{"rh":79,"mwh":2516},{"rh":79,"mwh":2500},{"rh":79,"mwh":2293},{"rh":79,"mwh":2272},{"rh":79,"mwh":2181},{"rh":79,"mwh":2108},{"rh":79,"mwh":2047},{"rh":79,"mwh":2010},{"rh":79,"mwh":1988},{"rh":79,"mwh":1965},{"rh":79,"mwh":1944},{"rh":79,"mwh":1919},{"rh":79,"mwh":1897},{"rh":79,"mwh":1880},{"rh":79,"mwh":1864},{"rh":79,"mwh":1841},{"rh":79,"mwh":1825},{"rh":79,"mwh":1811},{"rh":79,"mwh":1799},{"rh":79,"mwh":1775},{"rh":79,"mwh":1763},{"rh":79,"mwh":1751},{"rh":79,"mwh":1739},{"rh":79,"mwh":1716},{"rh":79,"mwh":1705},{"rh":79,"mwh":1694},{"rh":79,"mwh":1683},{"rh":79,"mwh":1660},{"rh":79,"mwh":1649},{"rh":79,"mwh":1638},{"rh":79,"mwh":1627},{"rh":79,"mwh":1604},{"rh":79,"mwh":1593},{"rh":79,"mwh":1571},{"rh":79,"mwh":1560},{"rh":79,"mwh":1548},{"rh":79,"mwh":1526},{"rh":79,"mwh":1514},{"rh":79,"mwh":1502},{"rh":79,"mwh":1479},{"rh":79,"mwh":1467},{"rh":79,"mwh":1455},{"rh":79,"mwh":1430},{"rh":79,"mwh":1418},{"rh":79,"mwh":1392},{"rh":79,"mwh":1371},{"rh":79,"mwh":1352},{"rh":79,"mwh":1323},{"rh":79,"mwh":1301},{"rh":79,"mwh":1279},{"rh":79,"mwh":1246},
      {"rh":80,"mwh":2696},{"rh":80,"mwh":2551},{"rh":80,"mwh":2530},{"rh":80,"mwh":2337},{"rh":80,"mwh":2283},{"rh":80,"mwh":2198},{"rh":80,"mwh":2137},{"rh":80,"mwh":2068},{"rh":80,"mwh":2017},{"rh":80,"mwh":1985},{"rh":80,"mwh":1963},{"rh":80,"mwh":1941},{"rh":80,"mwh":1922},{"rh":80,"mwh":1899},{"rh":80,"mwh":1877},{"rh":80,"mwh":1862},{"rh":80,"mwh":1847},{"rh":80,"mwh":1823},{"rh":80,"mwh":1809},{"rh":80,"mwh":1796},{"rh":80,"mwh":1784},{"rh":80,"mwh":1760},{"rh":80,"mwh":1748},{"rh":80,"mwh":1736},{"rh":80,"mwh":1725},{"rh":80,"mwh":1702},{"rh":80,"mwh":1690},{"rh":80,"mwh":1679},{"rh":80,"mwh":1668},{"rh":80,"mwh":1645},{"rh":80,"mwh":1634},{"rh":80,"mwh":1622},{"rh":80,"mwh":1611},{"rh":80,"mwh":1589},{"rh":80,"mwh":1578},{"rh":80,"mwh":1566},{"rh":80,"mwh":1555},{"rh":80,"mwh":1532},{"rh":80,"mwh":1521},{"rh":80,"mwh":1509},{"rh":80,"mwh":1498},{"rh":80,"mwh":1475},{"rh":80,"mwh":1463},{"rh":80,"mwh":1451},{"rh":80,"mwh":1438},{"rh":80,"mwh":1413},{"rh":80,"mwh":1401},{"rh":80,"mwh":1374},{"rh":80,"mwh":1353},{"rh":80,"mwh":1333},{"rh":80,"mwh":1301},{"rh":80,"mwh":1268},{"rh":80,"mwh":1236},
      {"rh":81,"mwh":2628},{"rh":81,"mwh":2399},{"rh":81,"mwh":2284},{"rh":81,"mwh":2240},{"rh":81,"mwh":2162},{"rh":81,"mwh":2093},{"rh":81,"mwh":2040},{"rh":81,"mwh":2006},{"rh":81,"mwh":1983},{"rh":81,"mwh":1961},{"rh":81,"mwh":1940},{"rh":81,"mwh":1916},{"rh":81,"mwh":1893},{"rh":81,"mwh":1877},{"rh":81,"mwh":1861},{"rh":81,"mwh":1836},{"rh":81,"mwh":1821},{"rh":81,"mwh":1808},{"rh":81,"mwh":1796},{"rh":81,"mwh":1771},{"rh":81,"mwh":1759},{"rh":81,"mwh":1747},{"rh":81,"mwh":1736},{"rh":81,"mwh":1712},{"rh":81,"mwh":1701},{"rh":81,"mwh":1690},{"rh":81,"mwh":1679},{"rh":81,"mwh":1656},{"rh":81,"mwh":1645},{"rh":81,"mwh":1634},{"rh":81,"mwh":1623},{"rh":81,"mwh":1600},{"rh":81,"mwh":1589},{"rh":81,"mwh":1577},{"rh":81,"mwh":1566},{"rh":81,"mwh":1543},{"rh":81,"mwh":1532},{"rh":81,"mwh":1520},{"rh":81,"mwh":1509},{"rh":81,"mwh":1485},{"rh":81,"mwh":1474},{"rh":81,"mwh":1462},{"rh":81,"mwh":1450},{"rh":81,"mwh":1425},{"rh":81,"mwh":1413},{"rh":81,"mwh":1387},{"rh":81,"mwh":1366},{"rh":81,"mwh":1347},{"rh":81,"mwh":1318},{"rh":81,"mwh":1296},{"rh":81,"mwh":1273},
      {"rh":82,"mwh":2650},{"rh":82,"mwh":2349},{"rh":82,"mwh":2307},{"rh":82,"mwh":2293},{"rh":82,"mwh":2278},{"rh":82,"mwh":2260},{"rh":82,"mwh":2237},{"rh":82,"mwh":2148},{"rh":82,"mwh":2082},{"rh":82,"mwh":2018},{"rh":82,"mwh":1990},{"rh":82,"mwh":1970},{"rh":82,"mwh":1944},{"rh":82,"mwh":1919},{"rh":82,"mwh":1902},{"rh":82,"mwh":1885},{"rh":82,"mwh":1859},{"rh":82,"mwh":1843},{"rh":82,"mwh":1830},{"rh":82,"mwh":1816},{"rh":82,"mwh":1791},{"rh":82,"mwh":1779},{"rh":82,"mwh":1767},{"rh":82,"mwh":1755},{"rh":82,"mwh":1731},{"rh":82,"mwh":1720},{"rh":82,"mwh":1708},{"rh":82,"mwh":1697},{"rh":82,"mwh":1674},{"rh":82,"mwh":1663},{"rh":82,"mwh":1652},{"rh":82,"mwh":1641},{"rh":82,"mwh":1618},{"rh":82,"mwh":1607},{"rh":82,"mwh":1596},{"rh":82,"mwh":1585},{"rh":82,"mwh":1562},{"rh":82,"mwh":1551},{"rh":82,"mwh":1539},{"rh":82,"mwh":1528},{"rh":82,"mwh":1504},{"rh":82,"mwh":1493},{"rh":82,"mwh":1481},{"rh":82,"mwh":1469},{"rh":82,"mwh":1444},{"rh":82,"mwh":1432},{"rh":82,"mwh":1405},{"rh":82,"mwh":1385},{"rh":82,"mwh":1365},{"rh":82,"mwh":1335},{"rh":82,"mwh":1312},{"rh":82,"mwh":1289},
      {"rh":83,"mwh":2604},{"rh":83,"mwh":2425},{"rh":83,"mwh":2380},{"rh":83,"mwh":2286},{"rh":83,"mwh":2272},{"rh":83,"mwh":2254},{"rh":83,"mwh":2237},{"rh":83,"mwh":2167},{"rh":83,"mwh":2098},{"rh":83,"mwh":2042},{"rh":83,"mwh":2001},{"rh":83,"mwh":1983},{"rh":83,"mwh":1957},{"rh":83,"mwh":1937},{"rh":83,"mwh":1910},{"rh":83,"mwh":1889},{"rh":83,"mwh":1871},{"rh":83,"mwh":1857},{"rh":83,"mwh":1831},{"rh":83,"mwh":1818},{"rh":83,"mwh":1804},{"rh":83,"mwh":1791},{"rh":83,"mwh":1766},{"rh":83,"mwh":1754},{"rh":83,"mwh":1742},{"rh":83,"mwh":1730},{"rh":83,"mwh":1707},{"rh":83,"mwh":1696},{"rh":83,"mwh":1684},{"rh":83,"mwh":1673},{"rh":83,"mwh":1650},{"rh":83,"mwh":1638},{"rh":83,"mwh":1626},{"rh":83,"mwh":1614},{"rh":83,"mwh":1591},{"rh":83,"mwh":1579},{"rh":83,"mwh":1567},{"rh":83,"mwh":1555},{"rh":83,"mwh":1531},{"rh":83,"mwh":1519},{"rh":83,"mwh":1506},{"rh":83,"mwh":1494},{"rh":83,"mwh":1469},{"rh":83,"mwh":1457},{"rh":83,"mwh":1429},{"rh":83,"mwh":1408},{"rh":83,"mwh":1388},{"rh":83,"mwh":1355},{"rh":83,"mwh":1330},{"rh":83,"mwh":1308},
      {"rh":84,"mwh":2695},{"rh":84,"mwh":2669},{"rh":84,"mwh":2625},{"rh":84,"mwh":2401},{"rh":84,"mwh":2375},{"rh":84,"mwh":2250},{"rh":84,"mwh":2222},{"rh":84,"mwh":2138},{"rh":84,"mwh":2072},{"rh":84,"mwh":2008},{"rh":84,"mwh":1983},{"rh":84,"mwh":1960},{"rh":84,"mwh":1934},{"rh":84,"mwh":1909},{"rh":84,"mwh":1889},{"rh":84,"mwh":1873},{"rh":84,"mwh":1848},{"rh":84,"mwh":1829},{"rh":84,"mwh":1812},{"rh":84,"mwh":1800},{"rh":84,"mwh":1775},{"rh":84,"mwh":1761},{"rh":84,"mwh":1748},{"rh":84,"mwh":1735},{"rh":84,"mwh":1710},{"rh":84,"mwh":1698},{"rh":84,"mwh":1685},{"rh":84,"mwh":1673},{"rh":84,"mwh":1648},{"rh":84,"mwh":1637},{"rh":84,"mwh":1624},{"rh":84,"mwh":1612},{"rh":84,"mwh":1588},{"rh":84,"mwh":1576},{"rh":84,"mwh":1563},{"rh":84,"mwh":1550},{"rh":84,"mwh":1525},{"rh":84,"mwh":1513},{"rh":84,"mwh":1500},{"rh":84,"mwh":1487},{"rh":84,"mwh":1461},{"rh":84,"mwh":1447},{"rh":84,"mwh":1432},{"rh":84,"mwh":1418},{"rh":84,"mwh":1394},{"rh":84,"mwh":1375},{"rh":84,"mwh":1341},{"rh":84,"mwh":1318},{"rh":84,"mwh":1293},
      {"rh":85,"mwh":2607},{"rh":85,"mwh":2587},{"rh":85,"mwh":2556},{"rh":85,"mwh":2529},{"rh":85,"mwh":2490},{"rh":85,"mwh":2447},{"rh":85,"mwh":2314},{"rh":85,"mwh":2225},{"rh":85,"mwh":2132},{"rh":85,"mwh":2058},{"rh":85,"mwh":2002},{"rh":85,"mwh":1975},{"rh":85,"mwh":1946},{"rh":85,"mwh":1922},{"rh":85,"mwh":1904},{"rh":85,"mwh":1880},{"rh":85,"mwh":1858},{"rh":85,"mwh":1842},{"rh":85,"mwh":1827},{"rh":85,"mwh":1803},{"rh":85,"mwh":1787},{"rh":85,"mwh":1773},{"rh":85,"mwh":1760},{"rh":85,"mwh":1735},{"rh":85,"mwh":1722},{"rh":85,"mwh":1709},{"rh":85,"mwh":1697},{"rh":85,"mwh":1671},{"rh":85,"mwh":1660},{"rh":85,"mwh":1647},{"rh":85,"mwh":1635},{"rh":85,"mwh":1610},{"rh":85,"mwh":1598},{"rh":85,"mwh":1585},{"rh":85,"mwh":1572},{"rh":85,"mwh":1547},{"rh":85,"mwh":1534},{"rh":85,"mwh":1520},{"rh":85,"mwh":1507},{"rh":85,"mwh":1480},{"rh":85,"mwh":1467},{"rh":85,"mwh":1452},{"rh":85,"mwh":1438},{"rh":85,"mwh":1412},{"rh":85,"mwh":1395},{"rh":85,"mwh":1378},{"rh":85,"mwh":1361},{"rh":85,"mwh":1336},{"rh":85,"mwh":1312},
      {"rh":86,"mwh":2484},{"rh":86,"mwh":2414},{"rh":86,"mwh":2408},{"rh":86,"mwh":2339},{"rh":86,"mwh":2249},{"rh":86,"mwh":2200},{"rh":86,"mwh":2118},{"rh":86,"mwh":2052},{"rh":86,"mwh":1988},{"rh":86,"mwh":1961},{"rh":86,"mwh":1940},{"rh":86,"mwh":1912},{"rh":86,"mwh":1890},{"rh":86,"mwh":1871},{"rh":86,"mwh":1855},{"rh":86,"mwh":1830},{"rh":86,"mwh":1812},{"rh":86,"mwh":1797},{"rh":86,"mwh":1784},{"rh":86,"mwh":1758},{"rh":86,"mwh":1745},{"rh":86,"mwh":1732},{"rh":86,"mwh":1719},{"rh":86,"mwh":1694},{"rh":86,"mwh":1682},{"rh":86,"mwh":1669},{"rh":86,"mwh":1657},{"rh":86,"mwh":1632},{"rh":86,"mwh":1620},{"rh":86,"mwh":1607},{"rh":86,"mwh":1594},{"rh":86,"mwh":1569},{"rh":86,"mwh":1556},{"rh":86,"mwh":1542},{"rh":86,"mwh":1529},{"rh":86,"mwh":1502},{"rh":86,"mwh":1489},{"rh":86,"mwh":1474},{"rh":86,"mwh":1460},{"rh":86,"mwh":1432},{"rh":86,"mwh":1417},{"rh":86,"mwh":1400},{"rh":86,"mwh":1383},{"rh":86,"mwh":1358},{"rh":86,"mwh":1334},{"rh":86,"mwh":1305},{"rh":86,"mwh":1271},
      {"rh":87,"mwh":2705},{"rh":87,"mwh":2607},{"rh":87,"mwh":2243},{"rh":87,"mwh":2231},{"rh":87,"mwh":2217},{"rh":87,"mwh":2152},{"rh":87,"mwh":2073},{"rh":87,"mwh":2012},{"rh":87,"mwh":1953},{"rh":87,"mwh":1930},{"rh":87,"mwh":1908},{"rh":87,"mwh":1883},{"rh":87,"mwh":1860},{"rh":87,"mwh":1841},{"rh":87,"mwh":1825},{"rh":87,"mwh":1800},{"rh":87,"mwh":1782},{"rh":87,"mwh":1768},{"rh":87,"mwh":1753},{"rh":87,"mwh":1727},{"rh":87,"mwh":1713},{"rh":87,"mwh":1699},{"rh":87,"mwh":1686},{"rh":87,"mwh":1660},{"rh":87,"mwh":1647},{"rh":87,"mwh":1633},{"rh":87,"mwh":1620},{"rh":87,"mwh":1593},{"rh":87,"mwh":1581},{"rh":87,"mwh":1567},{"rh":87,"mwh":1553},{"rh":87,"mwh":1526},{"rh":87,"mwh":1512},{"rh":87,"mwh":1497},{"rh":87,"mwh":1482},{"rh":87,"mwh":1455},{"rh":87,"mwh":1438},{"rh":87,"mwh":1420},{"rh":87,"mwh":1403},{"rh":87,"mwh":1377},{"rh":87,"mwh":1352},{"rh":87,"mwh":1328},{"rh":87,"mwh":1303},
      {"rh":88,"mwh":2678},{"rh":88,"mwh":2589},{"rh":88,"mwh":2293},{"rh":88,"mwh":2131},{"rh":88,"mwh":2012},{"rh":88,"mwh":1950},{"rh":88,"mwh":1927},{"rh":88,"mwh":1876},{"rh":88,"mwh":1840},{"rh":88,"mwh":1803},{"rh":88,"mwh":1780},{"rh":88,"mwh":1710},{"rh":88,"mwh":1680},{"rh":88,"mwh":1639},{"rh":88,"mwh":1587},{"rh":88,"mwh":1540},{"rh":88,"mwh":1470},{"rh":88,"mwh":1458},{"rh":88,"mwh":1388},{"rh":88,"mwh":1370},
      {"rh":89,"mwh":2276},{"rh":89,"mwh":2166},{"rh":89,"mwh":2096},{"rh":89,"mwh":2087},{"rh":89,"mwh":2003},{"rh":89,"mwh":1989},{"rh":89,"mwh":1813},{"rh":89,"mwh":1780},{"rh":89,"mwh":1717},{"rh":89,"mwh":1650},{"rh":89,"mwh":1589},{"rh":89,"mwh":1579},{"rh":89,"mwh":1520},{"rh":89,"mwh":1464},{"rh":89,"mwh":1391},{"rh":89,"mwh":1325},{"rh":89,"mwh":1255},
      {"rh":90,"mwh":2317},{"rh":90,"mwh":2055},{"rh":90,"mwh":1964},{"rh":90,"mwh":1936},{"rh":90,"mwh":1835},{"rh":90,"mwh":1818},{"rh":90,"mwh":1733},{"rh":90,"mwh":1716},{"rh":90,"mwh":1610},{"rh":90,"mwh":1560},{"rh":90,"mwh":1466},{"rh":90,"mwh":1376},{"rh":90,"mwh":1296},
      {"rh":91,"mwh":2700},{"rh":91,"mwh":2453},{"rh":91,"mwh":2222},{"rh":91,"mwh":2126},{"rh":91,"mwh":2038},{"rh":91,"mwh":1997},{"rh":91,"mwh":1950},{"rh":91,"mwh":1935},{"rh":91,"mwh":1853},{"rh":91,"mwh":1622},{"rh":91,"mwh":1599},{"rh":91,"mwh":1481},{"rh":91,"mwh":1458},
      {"rh":92,"mwh":2588},{"rh":92,"mwh":2181},{"rh":92,"mwh":2173},{"rh":92,"mwh":2134},{"rh":92,"mwh":2120},{"rh":92,"mwh":2096},{"rh":92,"mwh":1839},{"rh":92,"mwh":1649},{"rh":92,"mwh":1505},
      {"rh":93,"mwh":2271},{"rh":93,"mwh":2102},{"rh":93,"mwh":2081},{"rh":93,"mwh":2037},{"rh":93,"mwh":1768},{"rh":93,"mwh":1642},{"rh":93,"mwh":1628},{"rh":93,"mwh":1529},{"rh":93,"mwh":1505},{"rh":93,"mwh":1429},{"rh":93,"mwh":1400},{"rh":93,"mwh":1295},
      {"rh":94,"mwh":2548},{"rh":94,"mwh":2540},{"rh":94,"mwh":2397},{"rh":94,"mwh":2234},{"rh":94,"mwh":1950},{"rh":94,"mwh":1833},{"rh":94,"mwh":1747},{"rh":94,"mwh":1677},{"rh":94,"mwh":1631},{"rh":94,"mwh":1624},{"rh":94,"mwh":1534},
      {"rh":95,"mwh":2380},{"rh":95,"mwh":2146},{"rh":95,"mwh":2131},{"rh":95,"mwh":2088},{"rh":95,"mwh":1990},{"rh":95,"mwh":1727},{"rh":95,"mwh":1649},{"rh":95,"mwh":1617},{"rh":95,"mwh":1359},
      {"rh":96,"mwh":2256},{"rh":96,"mwh":2116},{"rh":96,"mwh":1926},{"rh":96,"mwh":1704},{"rh":96,"mwh":1555},{"rh":96,"mwh":1396},
      {"rh":97,"mwh":2119},{"rh":97,"mwh":2049},{"rh":97,"mwh":2035},{"rh":97,"mwh":2008},{"rh":97,"mwh":1750},{"rh":97,"mwh":1351},
      {"rh":98,"mwh":1899},{"rh":98,"mwh":1761},{"rh":98,"mwh":1715},
      {"rh":100,"mwh":1718}
    ]
  },
  "mark": {"type": "circle", "size": 30, "color": "blue", "opacity": 0.75},
  "encoding": {
    "x": {
      "field": "rh",
      "type": "quantitative",
      "scale": {"domain": [20.2, 103.8], "nice": false, "zero": false},
      "axis": {"values": [30, 40, 50, 60, 70, 80, 90, 100], "title": "Average Relative Humidity (%)", "titlePadding": 5}
    },
    "y": {
      "field": "mwh",
      "type": "quantitative",
      "scale": {"domain": [1090, 2826], "nice": false, "zero": false},
      "axis": {"values": [1200, 1400, 1600, 1800, 2000, 2200, 2400, 2600, 2800], "format": "d", "title": "Power Demand [MWh]", "titlePadding": 8}
    }
  }
}
